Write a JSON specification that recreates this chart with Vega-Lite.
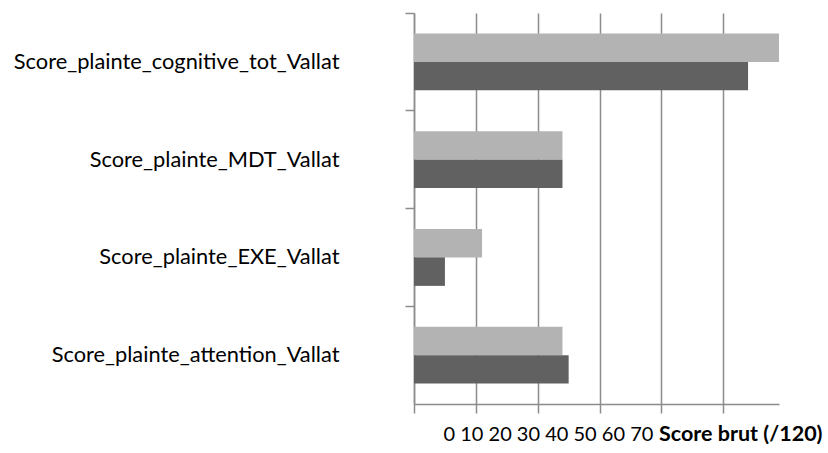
{
  "$schema": "https://vega.github.io/schema/vega-lite/v6.json",
  "width": 365,
  "height": 391,
  "autosize": {"type": "none"},
  "padding": {"left": 414, "top": 13, "right": 49, "bottom": 49},
  "background": "white",
  "config": {"view": {"stroke": null}, "font": "Lato"},
  "data": {
    "values": [
      {"mesure": "Score_plainte_cognitive_tot_Vallat", "serie": "Série 2", "score": 59},
      {"mesure": "Score_plainte_cognitive_tot_Vallat", "serie": "Série 1", "score": 54},
      {"mesure": "Score_plainte_MDT_Vallat", "serie": "Série 2", "score": 24},
      {"mesure": "Score_plainte_MDT_Vallat", "serie": "Série 1", "score": 24},
      {"mesure": "Score_plainte_EXE_Vallat", "serie": "Série 2", "score": 11},
      {"mesure": "Score_plainte_EXE_Vallat", "serie": "Série 1", "score": 5},
      {"mesure": "Score_plainte_attention_Vallat", "serie": "Série 2", "score": 24},
      {"mesure": "Score_plainte_attention_Vallat", "serie": "Série 1", "score": 25}
    ]
  },
  "layer": [
    {
      "mark": {"type": "bar"},
      "encoding": {
        "y": {
          "field": "mesure",
          "type": "nominal",
          "sort": ["Score_plainte_cognitive_tot_Vallat", "Score_plainte_MDT_Vallat", "Score_plainte_EXE_Vallat", "Score_plainte_attention_Vallat"],
          "scale": {"paddingInner": 0, "paddingOuter": 0},
          "axis": {
            "title": null,
            "bandPosition": 0,
            "tickSize": 9,
            "tickWidth": 1.5,
            "tickColor": "#8c8c8c",
            "domainColor": "#8c8c8c",
            "domainWidth": 1.5,
            "labelFont": "Lato",
            "labelFontSize": 21.8,
            "labelColor": "#000000",
            "labelPadding": 66,
            "labelLimit": 400,
            "grid": false
          }
        },
        "yOffset": {
          "field": "serie",
          "type": "nominal",
          "sort": ["Série 2", "Série 1"],
          "scale": {"paddingOuter": 0.715, "paddingInner": 0}
        },
        "x": {
          "field": "score",
          "type": "quantitative",
          "scale": {"domain": [0, 59], "nice": false},
          "axis": {
            "values": [0, 10, 20, 30, 40, 50],
            "labels": false,
            "grid": true,
            "gridColor": "#8c8c8c",
            "gridWidth": 1.5,
            "tickSize": 9,
            "tickWidth": 1.5,
            "tickColor": "#8c8c8c",
            "domainColor": "#8c8c8c",
            "domainWidth": 1.5,
            "title": "0 10 20 30 40 50 60 70",
            "titleFont": "Lato",
            "titleFontWeight": "normal",
            "titleFontSize": 20,
            "titleColor": "#000000",
            "titleAlign": "left",
            "titleBaseline": "middle",
            "titleX": 29,
            "titleY": 30
          }
        },
        "color": {
          "field": "serie",
          "type": "nominal",
          "scale": {"domain": ["Série 2", "Série 1"], "range": ["#b3b3b3", "#616161"]},
          "legend": null
        }
      }
    },
    {
      "mark": {"type": "rule", "opacity": 0},
      "encoding": {
        "x": {
          "datum": 0,
          "type": "quantitative",
          "scale": {"domain": [0, 59], "nice": false},
          "axis": {
            "orient": "bottom",
            "domain": false,
            "ticks": false,
            "labels": false,
            "grid": false,
            "title": "Score brut (/120)",
            "titleFont": "Lato",
            "titleFontWeight": "bold",
            "titleFontSize": 21.5,
            "titleColor": "#000000",
            "titleAlign": "right",
            "titleBaseline": "middle",
            "titleX": 408,
            "titleY": 30
          }
        }
      }
    }
  ],
  "resolve": {"scale": {"x": "independent"}, "axis": {"x": "independent"}}
}
